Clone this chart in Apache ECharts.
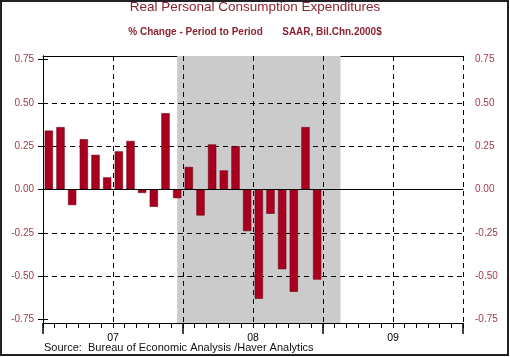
<!DOCTYPE html>
<html>
<head>
<meta charset="utf-8">
<script src="https://cdn.jsdelivr.net/npm/echarts@6/dist/echarts.min.js"></script>
<style>
html,body{margin:0;padding:0;background:#fff;}
#chart{width:510px;height:357px;}
</style>
</head>
<body>
<div id="chart"></div>
<script>
// Months on the axis (Jan 2007 .. Dec 2009)
const months = [
  '2007-01','2007-02','2007-03','2007-04','2007-05','2007-06','2007-07','2007-08','2007-09','2007-10','2007-11','2007-12',
  '2008-01','2008-02','2008-03','2008-04','2008-05','2008-06','2008-07','2008-08','2008-09','2008-10','2008-11','2008-12',
  '2009-01','2009-02','2009-03','2009-04','2009-05','2009-06','2009-07','2009-08','2009-09','2009-10','2009-11','2009-12'
];
// % change, period to period (Jan 2007 .. Dec 2008)
const pceChange = [
  0.34, 0.36, -0.09, 0.29, 0.20, 0.07, 0.22, 0.28, -0.02, -0.10, 0.44, -0.05,
  0.13, -0.15, 0.26, 0.11, 0.25, -0.24, -0.63, -0.14, -0.46, -0.59, 0.36, -0.52
];
const yearLabels = ['07', '08', '09'];
const yTicks = [-0.75, -0.50, -0.25, 0.00, 0.25, 0.50, 0.75];
// shaded recession band, from mid-month to mid-month
const recession = ['2007-12', '2009-02'];

const labelColor = '#9e3a4a';
const titleColor = '#8c2233';
const FONT = 'Liberation Sans, Arial, sans-serif';
const barData = months.map((m, i) => (i < pceChange.length ? pceChange[i] : null));
const recStart = months.indexOf(recession[0]) + 0.5;
const recEnd = months.indexOf(recession[1]) + 0.5;

const chart = echarts.init(document.getElementById('chart'), null, {renderer: 'canvas'});

function yAxisDef(pos, margin) {
  return {
    type: 'value', min: -0.77, max: 0.77, position: pos,
    axisLine: {show: true, lineStyle: {color: '#000', width: 1}},
    axisTick: {show: true, customValues: yTicks, length: 5, lineStyle: {color: '#000'}},
    axisLabel: {show: true, customValues: yTicks, color: labelColor, fontSize: 10,
      fontFamily: FONT, margin: margin, formatter: v => v.toFixed(2)},
    splitLine: {show: false}
  };
}

chart.setOption({
  animation: false,
  backgroundColor: '#fff',
  title: {
    text: 'Real Personal Consumption Expenditures',
    subtext: '% Change - Period to Period       SAAR, Bil.Chn.2000$',
    left: 'center', top: -5, itemGap: 13,
    textStyle: {color: titleColor, fontSize: 13.5, fontWeight: 'normal', fontFamily: FONT},
    subtextStyle: {color: titleColor, fontSize: 10, fontWeight: 'bold', fontFamily: FONT}
  },
  grid: {left: 43, right: 47, top: 56, bottom: 34, show: false},
  xAxis: [
    { // bars + zero line
      type: 'category', data: months, boundaryGap: true,
      axisLine: {show: true, onZero: true, lineStyle: {color: '#000', width: 1}},
      axisTick: {show: false}, axisLabel: {show: false}, splitLine: {show: false}, z: 4
    },
    { // monthly ticks, half-year dashed grid, year labels
      type: 'value', min: 0, max: 36, interval: 6, position: 'bottom', z: 3,
      axisLine: {show: true, onZero: false, lineStyle: {color: '#000', width: 1}},
      axisTick: {show: true, length: 5, lineStyle: {color: '#000'}},
      minorTick: {show: true, splitNumber: 6, length: 5, lineStyle: {color: '#000'}},
      axisLabel: {show: true, color: '#000', fontSize: 10.5, margin: 10, fontFamily: FONT,
        formatter: v => (v % 12 === 6 ? yearLabels[(v - 6) / 12] : '')},
      splitLine: {show: true, lineStyle: {color: '#000', type: [5, 4], width: 1}}
    },
    { // year ticks
      type: 'value', min: 0, max: 36, interval: 12, position: 'bottom',
      axisLine: {show: false, onZero: false},
      axisTick: {show: true, length: 11, lineStyle: {color: '#000', width: 1.5}},
      axisLabel: {show: false}, splitLine: {show: false}
    },
    { // top frame
      type: 'value', min: 0, max: 36, position: 'top',
      axisLine: {show: true, onZero: false, lineStyle: {color: '#000', width: 1}},
      axisTick: {show: false}, axisLabel: {show: false}, splitLine: {show: false}
    }
  ],
  yAxis: [yAxisDef('left', 9), yAxisDef('right', 12)],
  series: [
    {
      type: 'line', xAxisIndex: 1, yAxisIndex: 0, data: [], silent: true,
      symbol: 'none', z: 1,
      markArea: {
        silent: true, z: 1,
        itemStyle: {color: '#cbcbcb'},
        data: [[{xAxis: recStart}, {xAxis: recEnd}]]
      }
    },
    {
      type: 'bar', xAxisIndex: 0, yAxisIndex: 0,
      data: barData, barWidth: '71%', z: 2,
      itemStyle: {color: '#a8001e', borderColor: '#6e0014', borderWidth: 0.6},
      markLine: {
        silent: true, symbol: 'none', z: 1.5,
        label: {show: false},
        lineStyle: {color: '#000', type: [5, 4], width: 1},
        data: yTicks.filter(v => v !== 0 && Math.abs(v) < 0.75).map(v => ({yAxis: v}))
      }
    }
  ],
  graphic: [
    {type: 'rect', shape: {x: 1, y: 1, width: 507, height: 354},
     style: {fill: 'none', stroke: '#222', lineWidth: 2}, silent: true},
    {type: 'text', left: 44, top: 342,
     style: {text: 'Source:  Bureau of Economic Analysis /Haver Analytics', fill: '#111',
       fontSize: 11, fontFamily: FONT}}
  ]
});
</script>
</body>
</html>
